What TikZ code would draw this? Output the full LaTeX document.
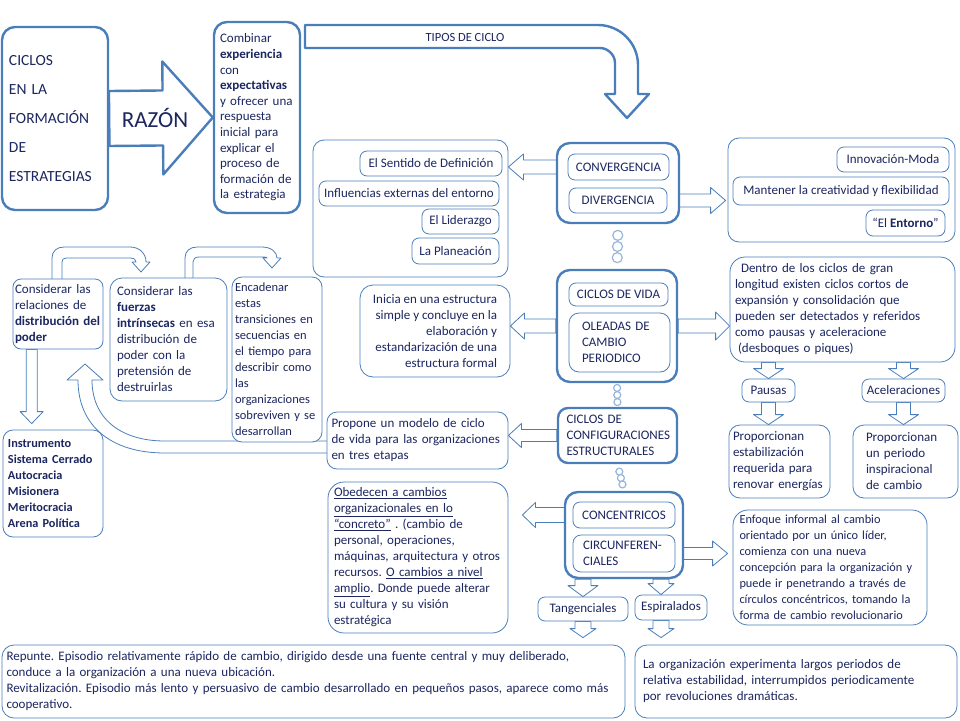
\documentclass[tikz,border=0pt]{standalone}
\usepackage{fontspec}
\setmainfont{Carlito}
\usetikzlibrary{calc,backgrounds}
\definecolor{edge}{RGB}{74,126,187}
\definecolor{ink}{RGB}{28,38,96}
\definecolor{ringcol}{RGB}{150,182,218}
\frenchspacing

\newcommand{\blockarrow}[6][]{%
  \coordinate (ba) at ($(#3)!#6!(#2)$);
  \draw[hollow,#1] ($(#2)!#4!90:(#3)$) -- ($(ba)!#4!90:(#3)$) -- ($(ba)!#5!90:(#3)$) -- (#3) -- ($(ba)!#5!-90:(#3)$) -- ($(ba)!#4!-90:(#3)$) -- ($(#2)!#4!-90:(#3)$) -- cycle;}

\begin{document}
\begin{tikzpicture}[x=1pt,y=-1pt,
  every node/.style={text=ink,inner sep=0pt,font=\fontsize{13}{16}\selectfont},
  bigbox/.style={draw=edge,line width=2.4pt,rounded corners=13pt,fill=white},
  smallbox/.style={draw=edge,line width=0.8pt,rounded corners=7pt,fill=white},
  hollow/.style={draw=edge,line width=0.8pt,fill=white,line join=round},
  ring/.style={draw=ringcol,line width=1.2pt,fill=white}]
\useasboundingbox (0,0) rectangle (960,720);

\node[bigbox,minimum width=106pt,minimum height=183pt,text width=92pt,align=left,font=\fontsize{15.5}{29}\selectfont] (ciclos) at (55,118.5) {CICLOS\\EN LA\\FORMACIÓN\\DE\\ESTRATEGIAS};
\node[bigbox,minimum width=86pt,minimum height=191pt,text width=74pt,align=left,font=\fontsize{13}{15.6}\selectfont] (combinar) at (257,117.5) {Combinar\\\textbf{experiencia}\\con\\\textbf{expectativas}\\y ofrecer una\\respuesta\\inicial para\\explicar el\\proceso de\\formación de\\la estrategia};
\node[font=\fontsize{23}{23}\selectfont] (razon) at (155,118) {RAZÓN};
\node[font=\fontsize{12.5}{14}\selectfont] (tipos) at (465,37) {TIPOS DE CICLO};

\node[smallbox,rounded corners=11pt,minimum width=195pt,minimum height=137pt] (factores) at (410.5,208.5) {};
\node[smallbox,minimum width=142pt,minimum height=25pt] (sentido) at (431,163.5) {El Sentido de Definición};
\node[smallbox,minimum width=180pt,minimum height=25pt] (influencias) at (409,193.5) {Influencias externas del entorno};
\node[smallbox,minimum width=77pt,minimum height=25pt] (liderazgo) at (460.5,221.5) {El Liderazgo};
\node[smallbox,minimum width=87pt,minimum height=26pt] (planeacion) at (455.5,251) {La Planeación};

\node[bigbox,minimum width=122pt,minimum height=80pt] (conv) at (618,183) {};
\node[smallbox,minimum width=101pt,minimum height=26pt] (convergencia) at (618.5,167) {CONVERGENCIA};
\node[smallbox,minimum width=98pt,minimum height=25pt] (divergencia) at (618,200.5) {DIVERGENCIA};

\node[smallbox,rounded corners=11pt,minimum width=227pt,minimum height=104pt] (entornos) at (841.5,190) {};
\node[smallbox,minimum width=112pt,minimum height=25pt] (innovacion) at (893,159.5) {Innovación-Moda};
\node[smallbox,minimum width=216pt,minimum height=28pt] (mantener) at (841,191) {Mantener la creatividad y flexibilidad};
\node[smallbox,minimum width=79pt,minimum height=26pt] (entorno) at (905.5,223) {“El \textbf{Entorno}”};

\node[bigbox,minimum width=120pt,minimum height=112pt] (vida) at (617,326) {};
\node[smallbox,minimum width=99pt,minimum height=23pt] (vidalbl) at (618.5,294.5) {CICLOS DE VIDA};
\node[smallbox,rounded corners=10pt,minimum width=101pt,minimum height=59pt,text width=75pt,align=left] (oleadas) at (619.5,342.5) {OLEADAS DE\\CAMBIO\\PERIODICO};
\node[smallbox,rounded corners=13pt,minimum width=150pt,minimum height=92pt,align=right] (inicia) at (435,331) {Inicia en una estructura\\simple y concluye en la\\elaboración y\\estandarización de una\\estructura formal};
\node[smallbox,rounded corners=15pt,minimum width=225pt,minimum height=105pt,text width=215pt,align=left] (dentro) at (842.5,309.5) {\hspace*{6pt}Dentro de los ciclos de gran\\longitud existen ciclos cortos de\\expansión y consolidación que\\pueden ser detectados y referidos\\como pausas y aceleracione\\\hspace*{3pt}(desboques o piques)};
\node[smallbox,minimum width=53pt,minimum height=23pt] (pausas) at (768.5,390.5) {Pausas};
\node[smallbox,minimum width=83pt,minimum height=23pt] (aceleraciones) at (903.5,390.5) {Aceleraciones};
\node[smallbox,rounded corners=11pt,minimum width=101pt,minimum height=73pt,text width=93pt,align=left] (estabilidad) at (779.5,461.5) {Proporcionan\\estabilización\\requerida para\\renovar energías};
\node[smallbox,rounded corners=11pt,minimum width=105pt,minimum height=73pt,text width=79pt,align=left] (inspiracion) at (905.5,461.5) {Proporcionan\\un periodo\\inspiracional\\de cambio};

\node[bigbox,rounded corners=10pt,minimum width=119pt,minimum height=55pt,text width=102pt,align=left] (config) at (617.5,435.5) {CICLOS DE\\CONFIGURACIONES\\ESTRUCTURALES};
\node[smallbox,rounded corners=10pt,minimum width=181pt,minimum height=57pt,text width=172pt,align=left] (propone) at (417.5,440.5) {Propone un modelo de ciclo\\de vida para las organizaciones\\en tres etapas};

\node[smallbox,rounded corners=8pt,minimum width=90pt,minimum height=70pt,text width=86pt,align=left] (relaciones) at (58,314) {Considerar las\\relaciones de\\\textbf{distribución del}\\\textbf{poder}};
\node[smallbox,rounded corners=12pt,minimum width=117pt,minimum height=123pt,text width=103pt,align=left] (fuerzas) at (168.5,339.5) {Considerar las\\\textbf{fuerzas}\\\textbf{intrínsecas} en esa\\distribución de\\poder con la\\pretensión de\\destruirlas};
\node[smallbox,rounded corners=10pt,minimum width=90pt,minimum height=165pt,text width=84pt,align=left,font=\fontsize{12.5}{16}\selectfont] (encadenar) at (277,359.5) {Encadenar\\estas\\transiciones en\\secuencias en\\el tiempo para\\describir como\\las\\organizaciones\\sobreviven y se\\desarrollan};
\node[smallbox,rounded corners=10pt,minimum width=100pt,minimum height=107pt,text width=90pt,align=left,font=\bfseries\fontsize{12.3}{16}\selectfont] (instrumento) at (53,483.5) {Instrumento\\Sistema Cerrado\\Autocracia\\Misionera\\Meritocracia\\Arena Política};

\node[smallbox,rounded corners=16pt,minimum width=180pt,minimum height=151pt,text width=168pt,align=left] (obedecen) at (418,557.5) {\underline{Obedecen a cambios}\\\underline{organizacionales en lo}\\\underline{“concreto”} . (cambio de\\personal, operaciones,\\máquinas, arquitectura y otros\\recursos. \underline{O cambios a nivel}\\\underline{amplio}. Donde puede alterar\\su cultura y su visión\\estratégica};
\node[bigbox,minimum width=118pt,minimum height=86pt] (conc) at (624,535) {};
\node[smallbox,minimum width=102pt,minimum height=26pt] (concentricos) at (624,515) {CONCENTRICOS};
\node[smallbox,rounded corners=8pt,minimum width=102pt,minimum height=37pt,text width=82pt,align=left] (circunf) at (624,553.5) {CIRCUNFEREN-\\CIALES};
\node[smallbox,minimum width=90pt,minimum height=24pt] (tangenciales) at (583,609) {Tangenciales};
\node[smallbox,minimum width=72pt,minimum height=25pt] (espiralados) at (671,607.5) {Espiralados};
\node[smallbox,rounded corners=15pt,minimum width=194pt,minimum height=115pt,text width=181pt,align=left,font=\fontsize{12.3}{16}\selectfont] (enfoque) at (830,567.5) {Enfoque informal al cambio\\orientado por un único líder,\\comienza con una nueva\\concepción para la organización y\\puede ir penetrando a través de\\círculos concéntricos, tomando la\\forma de cambio revolucionario};

\node[smallbox,rounded corners=12pt,minimum width=623pt,minimum height=73pt,text width=614pt,align=left] (repunte) at (313.5,681.5) {Repunte. Episodio relativamente rápido de cambio, dirigido desde una fuente central y muy deliberado,\\conduce a la organización a una nueva ubicación.\\Revitalización. Episodio más lento y persuasivo de cambio desarrollado en pequeños pasos, aparece como más\\cooperativo.};
\node[smallbox,rounded corners=12pt,minimum width=322pt,minimum height=73pt,text width=306pt,align=left] (periodos) at (796,681.5) {La organización experimenta largos periodos de\\relativa estabilidad, interrumpidos periodicamente\\por revoluciones dramáticas.};

\foreach \f in {.25,.5,.75}
  \draw[ring] ($(conv.south)!\f!(vida.north)$) circle (5pt);
\foreach \f in {.2,.5,.8}
  \draw[ring] ($(vida.south)!\f!(config.north)$) circle (3.5pt);
\foreach \f in {.28,.52,.76}
  \draw[ring] ($(config.south)!\f!(conc.north)$) circle (3.5pt);

\begin{scope}[on background layer]
\blockarrow[line width=2.4pt]{ciclos.east}{combinar.west}{27.5pt}{56.5pt}{50pt}
\draw[hollow,line width=2.4pt] (305,25) -- (598,25) .. controls (620,25) and (638,43) .. (638,65) -- (638,94) -- (649,94) -- (627,118) -- (605,94) -- (615,94) -- (615,63) .. controls (615,55) and (608,48) .. (600,48) -- (305,48) -- cycle;

\coordinate (c1) at (factores.east |- convergencia.west);
\blockarrow{convergencia.west}{c1}{7pt}{13pt}{15pt}
\coordinate (c2) at ($(entornos.west |- divergencia.east)+(-2,0)$);
\blockarrow{divergencia.east}{c2}{6.5pt}{13pt}{15pt}
\coordinate (c3) at (inicia.east |- vida.west);
\blockarrow{vida.west}{c3}{7pt}{13pt}{14pt}
\coordinate (c4) at (dentro.west |- vida.east);
\blockarrow{vida.east}{c4}{7pt}{14pt}{14pt}
\coordinate (c5) at (propone.east |- config.west);
\blockarrow{config.west}{c5}{6pt}{12pt}{13pt}
\coordinate (c6) at ($(obedecen.east |- concentricos.west)+(14,0)$);
\blockarrow{concentricos.west}{c6}{7.5pt}{12.5pt}{13pt}
\coordinate (c7) at ($(enfoque.west |- circunf.east)+(-5,0)$);
\blockarrow{circunf.east}{c7}{6pt}{12.5pt}{15pt}

\coordinate (d1) at (pausas.north |- dentro.south);
\blockarrow{d1}{pausas.north}{7pt}{15pt}{10pt}
\coordinate (d2) at (aceleraciones.north |- dentro.south);
\blockarrow{d2}{aceleraciones.north}{7pt}{15pt}{10pt}
\coordinate (d3) at (pausas.south |- estabilidad.north);
\blockarrow{pausas.south}{d3}{7pt}{15pt}{10pt}
\coordinate (d4) at (aceleraciones.south |- inspiracion.north);
\blockarrow{aceleraciones.south}{d4}{7pt}{15pt}{10pt}

\coordinate (r1) at ($(relaciones.south west)!.21!(relaciones.south east)$);
\coordinate (r2) at ($(r1 |- instrumento.north)+(0,-6)$);
\blockarrow{r1}{r2}{5.5pt}{11.5pt}{12pt}

\coordinate (t1) at (tangenciales.north |- conc.south);
\blockarrow{t1}{tangenciales.north}{8pt}{15pt}{11pt}
\coordinate (e0) at ($(espiralados.north)+(-10,0)$);
\coordinate (e1) at (e0 |- conc.south);
\blockarrow{e1}{e0}{8pt}{13pt}{11pt}
\coordinate (t2) at ($(tangenciales.south |- repunte.north)+(0,-7)$);
\blockarrow{tangenciales.south}{t2}{8pt}{13pt}{9pt}
\coordinate (e2) at ($(espiralados.south)+(-10,0)$);
\coordinate (e3) at ($(e2 |- periodos.north)+(0,-7)$);
\blockarrow{e2}{e3}{8pt}{13pt}{9pt}

\draw[hollow] (330,453) -- (165,453) .. controls (110,453) and (78,425) .. (78,380) -- (67,380) -- (85,364) -- (103,380) -- (92,380) .. controls (92,418) and (120,441) .. (165,441) -- (330,441) -- cycle;
\draw[hollow] (52,285) -- (52,258) .. controls (52,251) and (57,247) .. (64,247) -- (130,247) .. controls (139,247) and (146,253) .. (146,262) -- (150,262) -- (141,272) -- (132,262) -- (136,262) .. controls (136,259.5) and (134,258) .. (130,258) -- (66,258) .. controls (63.5,258) and (62,259.5) .. (62,262) -- (62,285) -- cycle;
\draw[hollow] (185,285) -- (185,258) .. controls (185,251) and (190,247) .. (197,247) -- (262,247) .. controls (271,247) and (277,252) .. (277,258) -- (281,258) -- (272,268) -- (263,258) -- (267,258) .. controls (267,257.4) and (266,257) .. (264,257) -- (199,257) .. controls (195,257) and (193,259) .. (193,262) -- (193,285) -- cycle;
\end{scope}
\end{tikzpicture}
\end{document}
